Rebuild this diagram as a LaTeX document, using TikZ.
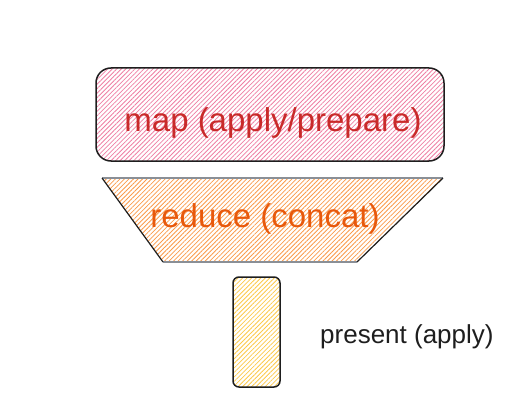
\documentclass[tikz,border=0pt]{standalone}
\usepackage{fontspec}
\setmainfont{Liberation Sans}
\usetikzlibrary{patterns.meta}
\definecolor{inkc}{HTML}{1E1E1E}
\definecolor{greyedge}{HTML}{8A8F96}
\definecolor{pinkhatch}{HTML}{EE7FA3}
\definecolor{orangehatch}{HTML}{FA9A4A}
\definecolor{yellowhatch}{HTML}{FCC94A}
\definecolor{maptext}{HTML}{C92A2A}
\definecolor{redtext}{HTML}{E8590C}
\tikzset{
  hatchfill/.style={pattern={Lines[angle=45,distance=3.2pt,line width=0.8pt]},pattern color=#1},
  bigtext/.style={font=\fontsize{33}{36}\selectfont,inner sep=0pt,anchor=base},
}
\begin{document}
\begin{tikzpicture}[x=1pt,y=-1pt]
\useasboundingbox (0,0) rectangle (530,412);
% map box
\node[draw=inkc,line width=1.5pt,hatchfill=pinkhatch,rounded corners=15pt,minimum width=348pt,minimum height=93pt,inner sep=0pt] (mapbox) at (270,114.5) {};
\node[bigtext,text=maptext] (maptxt) at (273,131) {map (apply/prepare)};
% reduce trapezoid
\coordinate (tl) at (102,178);
\coordinate (tr) at (443,178);
\coordinate (br) at (357,262);
\coordinate (bl) at (163,262);
\fill[hatchfill=orangehatch] (tl) -- (tr) -- (br) -- (bl) -- cycle;
\draw[greyedge,line width=1.2pt] (tl) -- (tr);
\draw[greyedge,line width=1.2pt] (bl) -- (br);
\draw[inkc,line width=1.2pt] (tr) -- (br);
\draw[inkc,line width=1.2pt] (tl) -- (bl);
\node[bigtext,text=redtext] (redtxt) at (265,227) {reduce (concat)};
% present box
\node[draw=inkc,line width=1.5pt,hatchfill=yellowhatch,rounded corners=6pt,minimum width=47pt,minimum height=110pt,inner sep=0pt] (presbox) at (256.5,332) {};
\node[font=\fontsize{26}{29}\selectfont,text=inkc,inner sep=0pt,anchor=base west] (prestxt) at (320,343) {present (apply)};
\end{tikzpicture}
\end{document}
